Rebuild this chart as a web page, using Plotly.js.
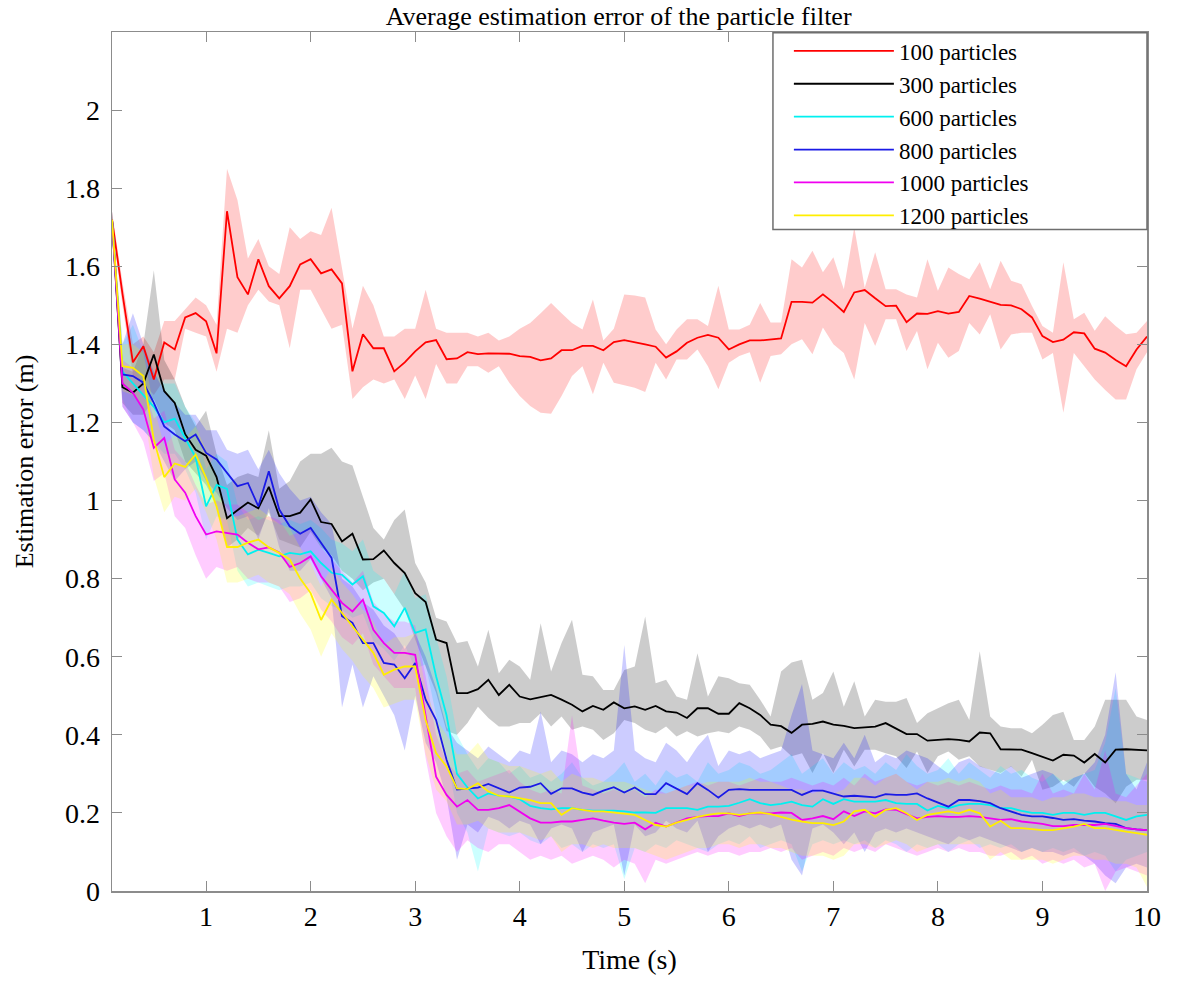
<!DOCTYPE html>
<html>
<head>
<meta charset="utf-8">
<script src="https://cdn.plot.ly/plotly-3.0.1.min.js"></script>
<style>
  html, body { margin: 0; padding: 0; background: #ffffff; }
  #chart { width: 1192px; height: 983px; }
</style>
</head>
<body>
<div id="chart"></div>
<script>
// Time axis: 0.1 s to 10 s in steps of 0.1 s
const time = [
  0.1,0.2,0.3,0.4,0.5,0.6,0.7,0.8,0.9,1.0,
  1.1,1.2,1.3,1.4,1.5,1.6,1.7,1.8,1.9,2.0,
  2.1,2.2,2.3,2.4,2.5,2.6,2.7,2.8,2.9,3.0,
  3.1,3.2,3.3,3.4,3.5,3.6,3.7,3.8,3.9,4.0,
  4.1,4.2,4.3,4.4,4.5,4.6,4.7,4.8,4.9,5.0,
  5.1,5.2,5.3,5.4,5.5,5.6,5.7,5.8,5.9,6.0,
  6.1,6.2,6.3,6.4,6.5,6.6,6.7,6.8,6.9,7.0,
  7.1,7.2,7.3,7.4,7.5,7.6,7.7,7.8,7.9,8.0,
  8.1,8.2,8.3,8.4,8.5,8.6,8.7,8.8,8.9,9.0,
  9.1,9.2,9.3,9.4,9.5,9.6,9.7,9.8,9.9,10.0
];

const seriesNames = ["100 particles","300 particles","600 particles","800 particles","1000 particles","1200 particles"];

// ---- 100 particles ----
const mean100 = [
  1.72,1.53,1.354,1.395,1.31,1.405,1.387,1.469,1.48,1.459,
  1.377,1.741,1.572,1.528,1.618,1.549,1.518,1.549,1.605,1.618,
  1.582,1.592,1.556,1.331,1.426,1.39,1.39,1.331,1.354,1.382,
  1.405,1.411,1.362,1.364,1.38,1.375,1.377,1.377,1.376,1.37,
  1.368,1.359,1.364,1.385,1.385,1.396,1.396,1.385,1.406,1.411,
  1.406,1.40,1.394,1.366,1.382,1.404,1.417,1.424,1.417,1.387,
  1.40,1.41,1.41,1.412,1.415,1.509,1.509,1.507,1.528,1.507,
  1.483,1.533,1.539,1.518,1.498,1.499,1.457,1.479,1.478,1.485,
  1.479,1.483,1.524,1.517,1.509,1.501,1.50,1.49,1.469,1.421,
  1.406,1.412,1.431,1.428,1.389,1.379,1.36,1.344,1.387,1.42
];
const upper100 = [
  1.74,1.56,1.40,1.42,1.38,1.46,1.46,1.49,1.52,1.50,
  1.45,1.85,1.77,1.62,1.67,1.60,1.58,1.70,1.67,1.69,
  1.68,1.75,1.60,1.44,1.55,1.50,1.42,1.42,1.44,1.44,
  1.54,1.44,1.43,1.43,1.43,1.42,1.43,1.41,1.42,1.44,
  1.455,1.48,1.506,1.48,1.455,1.438,1.515,1.41,1.44,1.528,
  1.525,1.52,1.438,1.40,1.438,1.464,1.464,1.447,1.55,1.438,
  1.438,1.45,1.506,1.456,1.456,1.618,1.597,1.64,1.585,1.623,
  1.541,1.70,1.545,1.636,1.541,1.541,1.528,1.52,1.618,1.537,
  1.597,1.58,1.567,1.61,1.541,1.614,1.563,1.554,1.498,1.447,
  1.43,1.61,1.464,1.481,1.435,1.472,1.447,1.426,1.43,1.46
];
const lower100 = [
  1.70,1.50,1.32,1.30,1.27,1.31,1.31,1.44,1.43,1.42,
  1.33,1.44,1.43,1.50,1.54,1.51,1.50,1.39,1.54,1.54,
  1.49,1.44,1.45,1.26,1.29,1.31,1.30,1.31,1.26,1.32,
  1.26,1.35,1.30,1.30,1.344,1.344,1.327,1.344,1.302,1.268,
  1.242,1.225,1.222,1.268,1.319,1.344,1.272,1.353,1.302,1.295,
  1.289,1.278,1.353,1.31,1.361,1.361,1.387,1.344,1.285,1.353,
  1.37,1.38,1.302,1.37,1.375,1.40,1.413,1.375,1.443,1.40,
  1.378,1.31,1.455,1.396,1.464,1.464,1.383,1.434,1.336,1.404,
  1.366,1.383,1.455,1.425,1.477,1.387,1.425,1.43,1.43,1.361,
  1.378,1.225,1.378,1.344,1.31,1.283,1.259,1.259,1.336,1.38
];

// ---- 300 particles ----
const mean300 = [
  1.72,1.29,1.276,1.30,1.374,1.28,1.25,1.17,1.13,1.115,
  1.06,0.955,0.975,0.995,0.98,1.035,0.96,0.96,0.969,1.003,
  0.945,0.94,0.895,0.915,0.849,0.85,0.872,0.84,0.814,0.763,
  0.74,0.644,0.635,0.507,0.507,0.517,0.541,0.502,0.528,0.498,
  0.491,0.496,0.502,0.49,0.477,0.46,0.474,0.464,0.483,0.468,
  0.473,0.464,0.474,0.46,0.457,0.443,0.468,0.468,0.454,0.454,
  0.481,0.468,0.451,0.426,0.422,0.405,0.426,0.428,0.434,0.426,
  0.423,0.417,0.419,0.421,0.43,0.415,0.402,0.402,0.385,0.387,
  0.389,0.387,0.383,0.406,0.404,0.363,0.363,0.362,0.353,0.344,
  0.334,0.349,0.347,0.329,0.351,0.329,0.362,0.363,0.362,0.36
];
const upper300 = [
  1.74,1.34,1.33,1.40,1.59,1.36,1.31,1.24,1.19,1.23,
  1.12,1.04,1.06,1.07,1.06,1.18,1.03,1.05,1.10,1.12,
  1.12,1.135,1.10,1.09,1.01,0.93,0.90,0.95,0.977,0.84,
  0.79,0.70,0.69,0.635,0.64,0.575,0.669,0.558,0.592,0.575,
  0.541,0.686,0.562,0.635,0.695,0.554,0.55,0.515,0.515,0.566,
  0.575,0.703,0.532,0.541,0.498,0.49,0.609,0.498,0.55,0.545,
  0.532,0.528,0.49,0.447,0.562,0.585,0.592,0.49,0.507,0.562,
  0.472,0.537,0.447,0.49,0.485,0.485,0.494,0.43,0.455,0.468,
  0.481,0.49,0.438,0.614,0.447,0.421,0.417,0.417,0.404,0.426,
  0.451,0.459,0.387,0.387,0.421,0.49,0.49,0.49,0.447,0.438
];
const lower300 = [
  1.70,1.25,1.22,1.22,1.26,1.20,1.18,1.10,1.07,1.04,
  0.99,0.88,0.90,0.93,0.91,0.97,0.90,0.89,0.88,0.92,
  0.88,0.86,0.82,0.80,0.77,0.79,0.80,0.76,0.72,0.644,
  0.575,0.508,0.41,0.40,0.43,0.472,0.443,0.421,0.421,0.43,
  0.43,0.455,0.421,0.447,0.413,0.421,0.413,0.387,0.404,0.438,
  0.43,0.413,0.404,0.421,0.396,0.409,0.396,0.404,0.409,0.404,
  0.421,0.413,0.396,0.362,0.37,0.345,0.353,0.302,0.353,0.302,
  0.362,0.319,0.362,0.362,0.353,0.345,0.315,0.357,0.302,0.345,
  0.357,0.336,0.345,0.319,0.31,0.302,0.319,0.293,0.336,0.259,
  0.267,0.285,0.267,0.302,0.267,0.25,0.225,0.267,0.285,0.285
];

// ---- 600 particles ----
const mean600 = [
  1.72,1.33,1.30,1.27,1.24,1.20,1.21,1.16,1.11,0.985,
  1.04,1.03,0.90,0.862,0.874,0.866,0.857,0.866,0.862,0.87,
  0.84,0.815,0.81,0.785,0.806,0.729,0.712,0.678,0.725,0.661,
  0.67,0.55,0.45,0.30,0.265,0.237,0.25,0.244,0.242,0.235,
  0.218,0.212,0.209,0.212,0.212,0.208,0.206,0.206,0.206,0.204,
  0.201,0.201,0.20,0.212,0.212,0.212,0.208,0.216,0.216,0.218,
  0.226,0.235,0.225,0.22,0.223,0.229,0.22,0.216,0.235,0.223,
  0.235,0.229,0.229,0.229,0.233,0.225,0.223,0.223,0.206,0.218,
  0.212,0.22,0.223,0.223,0.22,0.212,0.212,0.205,0.20,0.20,
  0.195,0.20,0.20,0.195,0.20,0.20,0.191,0.182,0.191,0.195
];
const upper600 = [
  1.74,1.40,1.45,1.38,1.33,1.30,1.30,1.24,1.20,1.08,
  1.12,1.10,0.99,0.95,0.96,0.95,0.94,0.95,0.94,0.95,
  0.93,0.90,0.89,0.87,0.90,0.82,0.80,0.76,0.82,0.75,
  0.76,0.65,0.55,0.40,0.35,0.31,0.34,0.33,0.30,0.32,
  0.29,0.30,0.28,0.30,0.33,0.29,0.27,0.28,0.30,0.33,
  0.28,0.30,0.27,0.31,0.29,0.30,0.28,0.33,0.30,0.31,
  0.33,0.32,0.30,0.31,0.33,0.35,0.30,0.32,0.34,0.30,
  0.33,0.31,0.32,0.30,0.33,0.31,0.35,0.32,0.30,0.31,
  0.34,0.30,0.33,0.31,0.29,0.32,0.30,0.31,0.29,0.28,
  0.30,0.28,0.29,0.30,0.31,0.38,0.52,0.30,0.29,0.28
];
const lower600 = [
  1.70,1.26,1.20,1.18,1.15,1.12,1.12,1.08,1.02,0.90,
  0.96,0.95,0.82,0.78,0.79,0.78,0.77,0.78,0.78,0.79,
  0.75,0.73,0.72,0.70,0.71,0.64,0.62,0.59,0.63,0.57,
  0.58,0.45,0.35,0.20,0.15,0.05,0.16,0.15,0.14,0.15,
  0.13,0.12,0.14,0.11,0.12,0.10,0.12,0.11,0.12,0.03,
  0.11,0.10,0.12,0.11,0.13,0.12,0.11,0.10,0.12,0.13,
  0.12,0.14,0.11,0.12,0.13,0.12,0.05,0.12,0.13,0.12,
  0.13,0.12,0.13,0.11,0.13,0.12,0.10,0.12,0.11,0.12,
  0.10,0.12,0.13,0.11,0.12,0.11,0.12,0.10,0.11,0.10,
  0.11,0.10,0.11,0.09,0.10,0.09,0.05,0.08,0.09,0.10
];

// ---- 800 particles ----
const mean800 = [
  1.72,1.323,1.319,1.302,1.25,1.19,1.169,1.152,1.169,1.122,
  1.105,1.071,1.037,1.045,0.985,1.075,0.977,0.934,0.915,0.93,
  0.892,0.853,0.704,0.687,0.635,0.635,0.584,0.58,0.545,0.584,
  0.49,0.438,0.336,0.26,0.262,0.265,0.274,0.263,0.252,0.265,
  0.267,0.276,0.249,0.263,0.263,0.252,0.246,0.257,0.266,0.252,
  0.265,0.248,0.248,0.276,0.261,0.248,0.276,0.259,0.239,0.259,
  0.261,0.259,0.259,0.259,0.259,0.259,0.246,0.257,0.257,0.25,
  0.242,0.244,0.242,0.24,0.248,0.246,0.246,0.25,0.237,0.226,
  0.216,0.233,0.233,0.23,0.225,0.212,0.204,0.195,0.191,0.191,
  0.187,0.182,0.184,0.18,0.178,0.174,0.172,0.161,0.158,0.156
];
const upper800 = [
  1.74,1.40,1.48,1.40,1.33,1.28,1.25,1.22,1.22,1.18,
  1.18,1.13,1.12,1.13,1.08,1.13,1.07,1.03,1.00,1.01,
  0.97,0.94,0.80,0.78,0.74,0.72,0.68,0.66,0.62,0.66,
  0.60,0.52,0.42,0.38,0.36,0.34,0.37,0.35,0.33,0.36,
  0.35,0.46,0.33,0.36,0.35,0.33,0.35,0.34,0.36,0.63,
  0.36,0.34,0.33,0.38,0.36,0.33,0.37,0.40,0.32,0.36,
  0.35,0.36,0.34,0.35,0.36,0.45,0.53,0.36,0.35,0.34,
  0.38,0.34,0.40,0.33,0.35,0.34,0.36,0.35,0.34,0.32,
  0.30,0.33,0.34,0.32,0.31,0.30,0.32,0.29,0.30,0.31,
  0.30,0.27,0.29,0.30,0.33,0.40,0.56,0.30,0.26,0.33
];
const lower800 = [
  1.70,1.24,1.20,1.18,1.15,1.10,1.05,1.08,1.10,1.05,
  1.02,0.98,0.95,0.96,0.90,0.98,0.88,0.82,0.82,0.85,
  0.80,0.75,0.47,0.58,0.47,0.55,0.50,0.45,0.36,0.50,
  0.38,0.33,0.24,0.08,0.17,0.15,0.19,0.18,0.16,0.18,
  0.17,0.12,0.16,0.17,0.16,0.10,0.15,0.16,0.17,0.04,
  0.17,0.14,0.15,0.18,0.16,0.15,0.18,0.10,0.14,0.16,
  0.17,0.16,0.17,0.16,0.17,0.08,0.04,0.16,0.17,0.15,
  0.12,0.15,0.10,0.15,0.16,0.15,0.16,0.15,0.14,0.13,
  0.12,0.14,0.13,0.14,0.13,0.12,0.11,0.10,0.11,0.10,
  0.10,0.09,0.10,0.09,0.07,0.04,0.02,0.06,0.07,0.06
];

// ---- 1000 particles ----
const mean1000 = [
  1.72,1.30,1.276,1.233,1.135,1.16,1.054,1.02,0.96,0.913,
  0.921,0.917,0.913,0.892,0.875,0.88,0.867,0.83,0.84,0.857,
  0.806,0.772,0.738,0.716,0.746,0.669,0.635,0.61,0.61,0.605,
  0.447,0.293,0.246,0.216,0.233,0.208,0.208,0.212,0.22,0.204,
  0.186,0.175,0.175,0.178,0.178,0.182,0.186,0.18,0.175,0.172,
  0.175,0.158,0.175,0.165,0.175,0.186,0.19,0.192,0.192,0.199,
  0.192,0.199,0.199,0.199,0.201,0.20,0.182,0.186,0.192,0.184,
  0.204,0.192,0.204,0.199,0.209,0.208,0.197,0.186,0.19,0.192,
  0.19,0.19,0.192,0.19,0.186,0.182,0.184,0.178,0.175,0.172,
  0.166,0.166,0.169,0.169,0.169,0.172,0.166,0.161,0.158,0.156
];
const upper1000 = [
  1.74,1.36,1.34,1.30,1.21,1.23,1.13,1.10,1.04,0.99,
  1.00,0.99,0.99,0.97,0.95,0.96,0.95,0.91,0.92,0.93,
  0.88,0.85,0.82,0.79,0.82,0.74,0.71,0.69,0.69,0.68,
  0.55,0.40,0.33,0.30,0.31,0.28,0.29,0.30,0.31,0.28,
  0.26,0.25,0.26,0.25,0.45,0.27,0.26,0.25,0.26,0.25,
  0.26,0.24,0.26,0.25,0.26,0.27,0.28,0.27,0.28,0.28,
  0.27,0.28,0.29,0.28,0.28,0.29,0.28,0.27,0.28,0.27,
  0.29,0.27,0.30,0.28,0.29,0.30,0.28,0.27,0.28,0.27,
  0.28,0.27,0.28,0.27,0.26,0.27,0.26,0.26,0.25,0.30,
  0.25,0.26,0.25,0.30,0.26,0.36,0.25,0.24,0.27,0.30
];
const lower1000 = [
  1.70,1.24,1.20,1.15,1.05,1.07,0.96,0.93,0.86,0.80,
  0.83,0.82,0.83,0.80,0.79,0.79,0.78,0.74,0.75,0.77,
  0.72,0.69,0.65,0.63,0.66,0.58,0.55,0.52,0.52,0.52,
  0.34,0.20,0.14,0.10,0.13,0.11,0.10,0.12,0.12,0.10,
  0.08,0.09,0.08,0.09,0.07,0.08,0.09,0.08,0.06,0.08,
  0.07,0.02,0.08,0.07,0.08,0.09,0.10,0.09,0.10,0.10,
  0.09,0.10,0.10,0.11,0.10,0.11,0.08,0.09,0.10,0.09,
  0.11,0.10,0.11,0.10,0.12,0.11,0.10,0.09,0.10,0.11,
  0.10,0.11,0.10,0.10,0.09,0.09,0.10,0.08,0.09,0.07,
  0.08,0.07,0.08,0.06,0.07,0.00,0.05,0.06,0.05,0.04
];

// ---- 1200 particles ----
const mean1200 = [
  1.72,1.344,1.34,1.319,1.156,1.06,1.095,1.086,1.118,1.058,
  0.985,0.881,0.881,0.892,0.90,0.88,0.866,0.849,0.80,0.763,
  0.694,0.746,0.712,0.678,0.643,0.61,0.554,0.567,0.575,0.575,
  0.438,0.353,0.319,0.263,0.261,0.276,0.255,0.244,0.242,0.237,
  0.233,0.225,0.225,0.195,0.212,0.208,0.204,0.204,0.201,0.199,
  0.195,0.182,0.169,0.165,0.175,0.182,0.19,0.195,0.199,0.199,
  0.195,0.199,0.201,0.197,0.19,0.183,0.178,0.174,0.174,0.169,
  0.178,0.204,0.208,0.19,0.208,0.212,0.199,0.182,0.195,0.199,
  0.204,0.199,0.208,0.199,0.165,0.18,0.161,0.161,0.158,0.156,
  0.156,0.161,0.165,0.172,0.161,0.161,0.156,0.152,0.148,0.144
];
const upper1200 = [
  1.74,1.40,1.40,1.38,1.24,1.14,1.17,1.16,1.19,1.13,
  1.06,0.96,0.96,0.97,0.98,0.96,0.94,0.93,0.88,0.84,
  0.78,0.83,0.79,0.76,0.72,0.69,0.63,0.65,0.65,0.66,
  0.52,0.44,0.40,0.35,0.35,0.38,0.34,0.33,0.32,0.32,
  0.31,0.30,0.31,0.28,0.30,0.29,0.29,0.28,0.28,0.28,
  0.27,0.26,0.25,0.25,0.26,0.27,0.27,0.28,0.28,0.28,
  0.28,0.29,0.28,0.28,0.27,0.26,0.26,0.25,0.26,0.25,
  0.26,0.29,0.29,0.27,0.29,0.30,0.28,0.26,0.28,0.28,
  0.29,0.28,0.29,0.28,0.25,0.26,0.24,0.24,0.24,0.23,
  0.24,0.24,0.25,0.25,0.24,0.24,0.23,0.23,0.22,0.22
];
const lower1200 = [
  1.70,1.28,1.27,1.24,1.06,0.97,1.01,1.00,1.03,0.97,
  0.90,0.79,0.79,0.80,0.81,0.79,0.78,0.76,0.71,0.67,
  0.60,0.66,0.62,0.59,0.55,0.52,0.47,0.48,0.49,0.49,
  0.35,0.26,0.23,0.17,0.17,0.18,0.16,0.15,0.15,0.15,
  0.14,0.13,0.14,0.10,0.12,0.12,0.11,0.12,0.11,0.11,
  0.11,0.10,0.09,0.08,0.09,0.10,0.11,0.11,0.12,0.12,
  0.11,0.12,0.12,0.11,0.11,0.10,0.09,0.09,0.09,0.08,
  0.09,0.12,0.12,0.11,0.12,0.13,0.12,0.10,0.11,0.12,
  0.12,0.12,0.12,0.12,0.08,0.10,0.08,0.08,0.08,0.08,
  0.07,0.08,0.09,0.09,0.08,0.08,0.07,0.07,0.06,0.01
];

const xTicks = [1,2,3,4,5,6,7,8,9,10];
const yTicks = [0,0.2,0.4,0.6,0.8,1,1.2,1.4,1.6,1.8,2];
const yTickText = ["0","0.2","0.4","0.6","0.8","1","1.2","1.4","1.6","1.8","2"];

const lineColors = ["#ff0000","#000000","#00f0f0","#1a1ae6","#f000f0","#ffee00"];
const bandColors = ["rgba(255,0,0,0.2)","rgba(0,0,0,0.2)","rgba(0,255,255,0.2)",
                    "rgba(0,0,255,0.2)","rgba(255,0,255,0.2)","rgba(255,255,0,0.2)"];

const means  = [mean100, mean300, mean600, mean800, mean1000, mean1200];
const uppers = [upper100, upper300, upper600, upper800, upper1000, upper1200];
const lowers = [lower100, lower300, lower600, lower800, lower1000, lower1200];

const traces = [];
const timeRev = time.slice().reverse();
for (let i = 0; i < means.length; i++) {
  traces.push({
    type: "scatter", mode: "lines",
    x: time.concat(timeRev),
    y: uppers[i].concat(lowers[i].slice().reverse()),
    fill: "toself", fillcolor: bandColors[i],
    line: { width: 0, color: bandColors[i] },
    hoverinfo: "skip", showlegend: false
  });
}
for (let i = 0; i < means.length; i++) {
  traces.push({
    type: "scatter", mode: "lines",
    x: time, y: means[i],
    name: seriesNames[i],
    line: { color: lineColors[i], width: 1.8 }
  });
}

const serif = "Liberation Serif, Times New Roman, serif";
const axisGrey = "#8c8c8c";

const layout = {
  width: 1192, height: 983,
  margin: { l: 112, r: 45, t: 32, b: 92 },
  paper_bgcolor: "#ffffff", plot_bgcolor: "#ffffff",
  font: { family: serif, size: 26, color: "#000000" },
  title: {
    text: "Average estimation error of the particle filter",
    font: { family: serif, size: 26, color: "#000000" },
    xref: "container", x: 0.519, xanchor: "center",
    yref: "container", y: 0.9837, yanchor: "middle",
    pad: { t: 0, b: 0 }
  },
  xaxis: {
    range: [0.1, 10],
    tickvals: xTicks,
    ticks: "inside", ticklen: 10, tickcolor: axisGrey, tickwidth: 1,
    showline: true, linecolor: axisGrey, linewidth: 1.5, mirror: "ticks",
    showgrid: false, zeroline: false,
    tickfont: { family: serif, size: 28, color: "#000000" },
    ticklabelstandoff: 0,
    title: { text: "Time (s)", font: { family: serif, size: 28, color: "#000000" }, standoff: 18 }
  },
  yaxis: {
    range: [0, 2.2],
    tickvals: yTicks, ticktext: yTickText,
    ticks: "inside", ticklen: 10, tickcolor: axisGrey, tickwidth: 1,
    showline: true, linecolor: axisGrey, linewidth: 1.5, mirror: "ticks",
    showgrid: false, zeroline: false,
    tickfont: { family: serif, size: 28, color: "#000000" },
    ticklabelstandoff: 5,
    title: { text: "Estimation error (m)", font: { family: serif, size: 26, color: "#000000" }, standoff: 24 }
  },
  showlegend: true,
  legend: {
    x: 0.654, xanchor: "left", y: 1.003, yanchor: "top",
    bgcolor: "rgba(0,0,0,0)", borderwidth: 0,
    font: { family: serif, size: 23, color: "#000000" },
    itemwidth: 100, tracegroupgap: 0
  },
  shapes: [{
    type: "rect", xref: "paper", yref: "paper",
    x0: 0.6386, x1: 1.0, y0: 0.770, y1: 0.999,
    line: { color: "#6e6e6e", width: 1.5 },
    fillcolor: "#ffffff", layer: "above"
  }]
};

Plotly.newPlot("chart", traces, layout, { staticPlot: true, displayModeBar: false });
</script>
</body>
</html>
